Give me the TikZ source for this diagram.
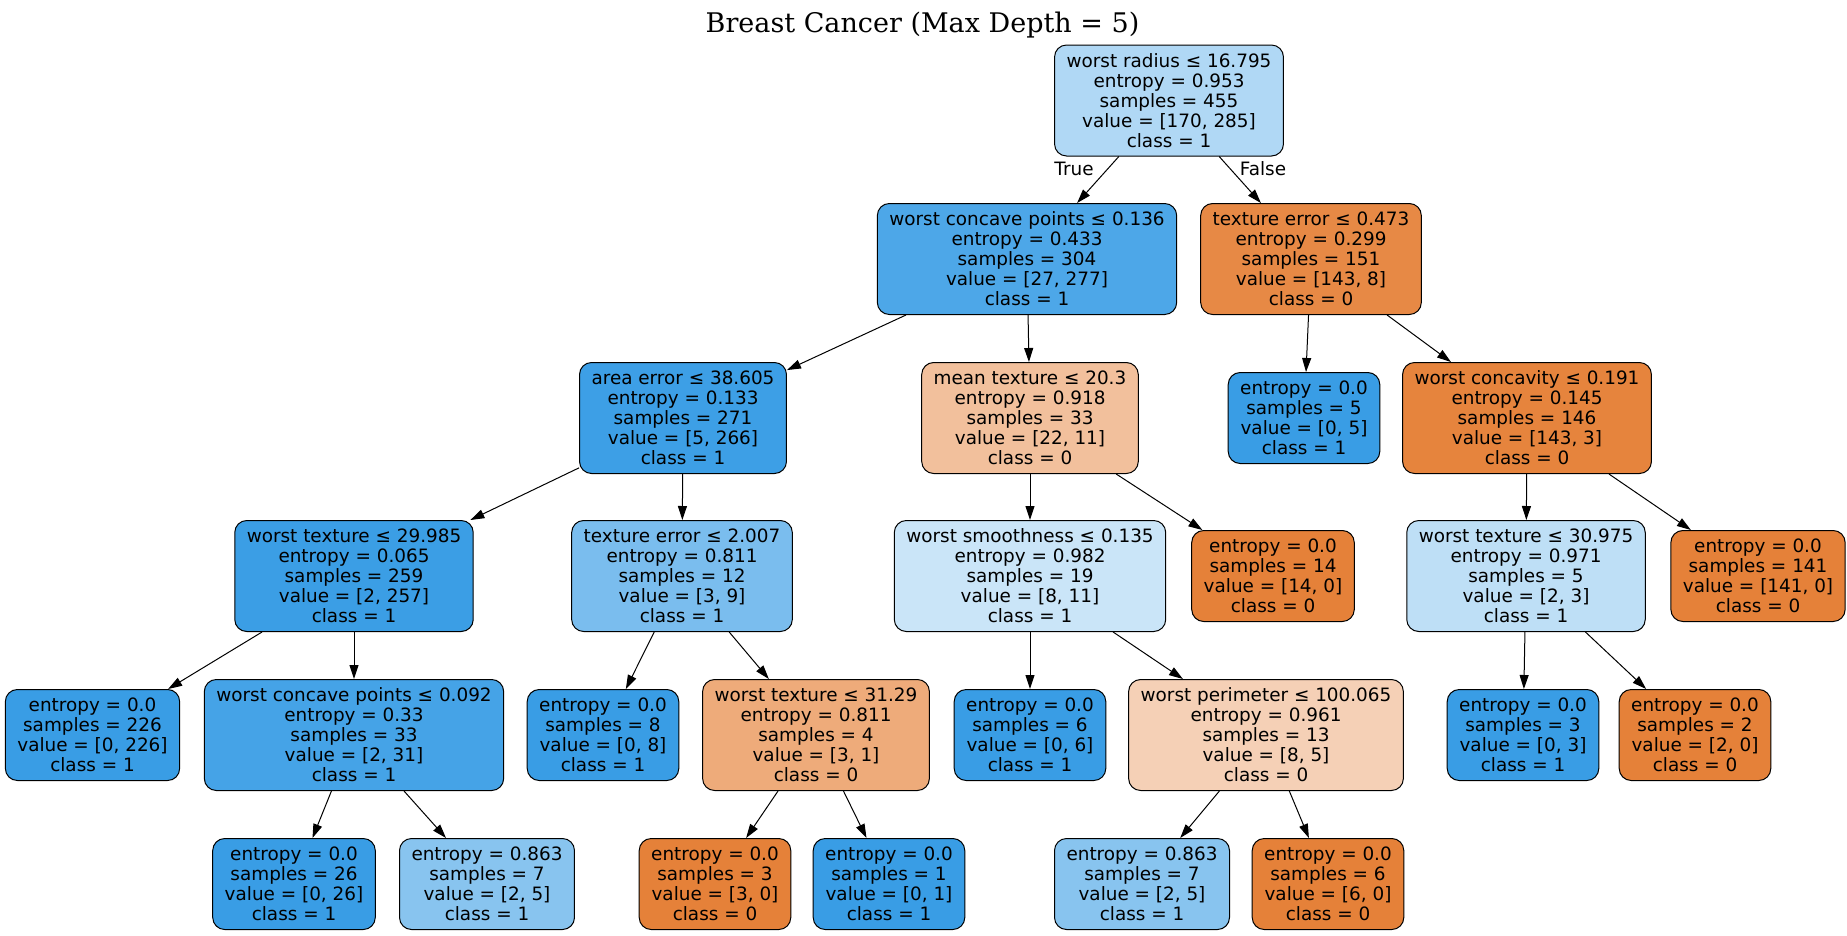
\documentclass[tikz,border=0pt]{standalone}
\usepackage{fontspec}
\setmainfont{DejaVu Sans}
\newfontfamily\titlefont{DejaVu Serif}
\usetikzlibrary{arrows.meta}
\definecolor{clsA}{HTML}{E58139}
\definecolor{clsB}{HTML}{399DE5}
\begin{document}
\begin{tikzpicture}[x=1pt,y=-1pt,
  box/.style={draw,line width=1pt,rounded corners=12pt,align=center,
    inner xsep=12pt,inner ysep=0pt,font=\fontsize{18.4}{20}\selectfont},
  split/.style={box,minimum height=111pt},
  leaf/.style={box,minimum height=91pt},
  edge/.style={line width=1pt,-{Triangle[length=14pt,width=9pt]}},
  lbl/.style={font=\fontsize{18.4}{20}\selectfont,inner sep=0pt}]
\useasboundingbox (0,0) rectangle (1847,935);

% title
\node[anchor=base] (title) at (922.5,32) {\titlefont\fontsize{27}{30}\selectfont Breast Cancer (Max Depth = 5)};

% depth 0 and 1
\node[split,fill=clsB!40] (t) at (1169,100.5) {worst radius ≤ 16.795\\entropy = 0.953\\samples = 455\\value = [170, 285]\\class = 1};
\node[split,fill=clsB!90] (tL) at (1027,259) {worst concave points ≤ 0.136\\entropy = 0.433\\samples = 304\\value = [27, 277]\\class = 1};
\node[split,fill=clsA!94] (tR) at (1311,259) {texture error ≤ 0.473\\entropy = 0.299\\samples = 151\\value = [143, 8]\\class = 0};

% depth 2
\node[split,fill=clsB!98] (tLL) at (683,418) {area error ≤ 38.605\\entropy = 0.133\\samples = 271\\value = [5, 266]\\class = 1};
\node[split,fill=clsA!50] (tLR) at (1030,418) {mean texture ≤ 20.3\\entropy = 0.918\\samples = 33\\value = [22, 11]\\class = 0};
\node[leaf,fill=clsB] (tRL) at (1304,418) {entropy = 0.0\\samples = 5\\value = [0, 5]\\class = 1};
\node[split,fill=clsA!98] (tRR) at (1527,418) {worst concavity ≤ 0.191\\entropy = 0.145\\samples = 146\\value = [143, 3]\\class = 0};

% depth 3
\node[split,fill=clsB!99] (tLLL) at (354,576) {worst texture ≤ 29.985\\entropy = 0.065\\samples = 259\\value = [2, 257]\\class = 1};
\node[split,fill=clsB!67] (tLLR) at (682,576) {texture error ≤ 2.007\\entropy = 0.811\\samples = 12\\value = [3, 9]\\class = 1};
\node[split,fill=clsB!27] (tLRL) at (1030,576) {worst smoothness ≤ 0.135\\entropy = 0.982\\samples = 19\\value = [8, 11]\\class = 1};
\node[leaf,fill=clsA] (tLRR) at (1273,576) {entropy = 0.0\\samples = 14\\value = [14, 0]\\class = 0};
\node[split,fill=clsB!33] (tRRL) at (1526,576) {worst texture ≤ 30.975\\entropy = 0.971\\samples = 5\\value = [2, 3]\\class = 1};
\node[leaf,fill=clsA] (tRRR) at (1758,576) {entropy = 0.0\\samples = 141\\value = [141, 0]\\class = 0};

% depth 4
\node[leaf,fill=clsB] (tLLLL) at (92.5,735) {entropy = 0.0\\samples = 226\\value = [0, 226]\\class = 1};
\node[split,fill=clsB!94] (tLLLR) at (354,735) {worst concave points ≤ 0.092\\entropy = 0.33\\samples = 33\\value = [2, 31]\\class = 1};
\node[leaf,fill=clsB] (tLLRL) at (603,735) {entropy = 0.0\\samples = 8\\value = [0, 8]\\class = 1};
\node[split,fill=clsA!67] (tLLRR) at (816,735) {worst texture ≤ 31.29\\entropy = 0.811\\samples = 4\\value = [3, 1]\\class = 0};
\node[leaf,fill=clsB] (tLRLL) at (1030,735) {entropy = 0.0\\samples = 6\\value = [0, 6]\\class = 1};
\node[split,fill=clsA!37] (tLRLR) at (1266,735) {worst perimeter ≤ 100.065\\entropy = 0.961\\samples = 13\\value = [8, 5]\\class = 0};
\node[leaf,fill=clsB] (tRRLL) at (1523,735) {entropy = 0.0\\samples = 3\\value = [0, 3]\\class = 1};
\node[leaf,fill=clsA] (tRRLR) at (1695,735) {entropy = 0.0\\samples = 2\\value = [2, 0]\\class = 0};

% depth 5
\node[leaf,fill=clsB] (tLLLRL) at (294,884) {entropy = 0.0\\samples = 26\\value = [0, 26]\\class = 1};
\node[leaf,fill=clsB!60] (tLLLRR) at (487,884) {entropy = 0.863\\samples = 7\\value = [2, 5]\\class = 1};
\node[leaf,fill=clsA] (tLLRRL) at (715,884) {entropy = 0.0\\samples = 3\\value = [3, 0]\\class = 0};
\node[leaf,fill=clsB] (tLLRRR) at (889,884) {entropy = 0.0\\samples = 1\\value = [0, 1]\\class = 1};
\node[leaf,fill=clsB!60] (tLRLRL) at (1142,884) {entropy = 0.863\\samples = 7\\value = [2, 5]\\class = 1};
\node[leaf,fill=clsA] (tLRLRR) at (1328,884) {entropy = 0.0\\samples = 6\\value = [6, 0]\\class = 0};

% edges
\foreach \a/\b in {t/tL,t/tR,tL/tLL,tL/tLR,tR/tRL,tR/tRR,
  tLL/tLLL,tLL/tLLR,tLR/tLRL,tLR/tLRR,tRR/tRRL,tRR/tRRR,
  tLLL/tLLLL,tLLL/tLLLR,tLLR/tLLRL,tLLR/tLLRR,tLRL/tLRLL,tLRL/tLRLR,
  tRRL/tRRLL,tRRL/tRRLR,tLLLR/tLLLRL,tLLLR/tLLLRR,tLLRR/tLLRRL,
  tLLRR/tLLRRR,tLRLR/tLRLRL,tLRLR/tLRLRR}
  \draw[edge] (\a) -- (\b);

\node[lbl] (trueLbl) at (1074,169) {True};
\node[lbl] (falseLbl) at (1263,169) {False};
\end{tikzpicture}
\end{document}
